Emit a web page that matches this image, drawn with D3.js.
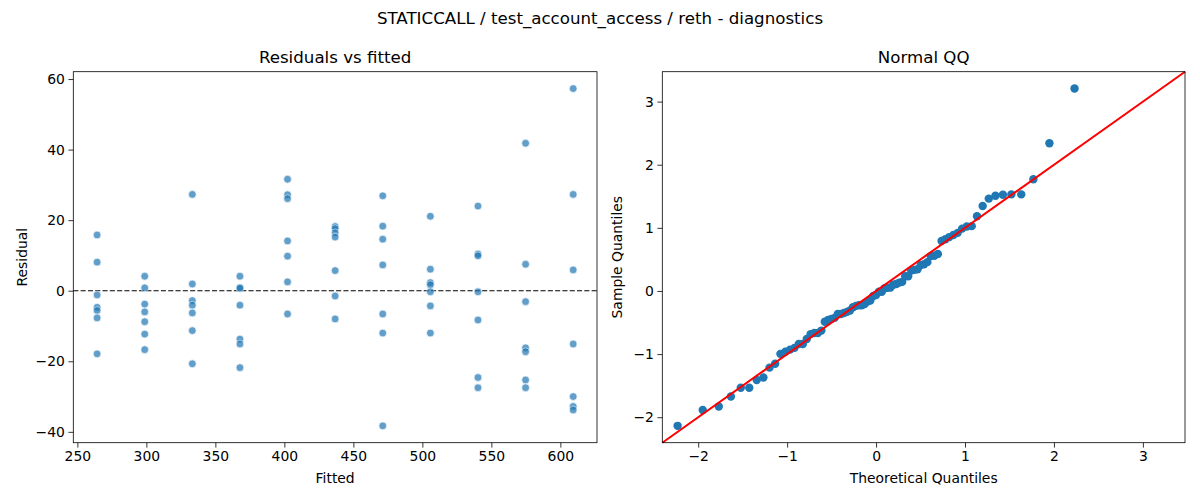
<!DOCTYPE html>
<html>
<head>
<meta charset="utf-8">
<script src="https://cdn.jsdelivr.net/npm/d3@7"></script>
<style>
  body { margin: 0; background: #fff; }
  svg { display: block; font-family: "DejaVu Sans", sans-serif; }
</style>
</head>
<body>
<div id="chart"></div>
<script>
// fitted levels (one column of points per level)
const fittedLevels = [264.3, 298.8, 333.3, 367.8, 402.3, 436.8, 471.3, 505.8, 540.3, 574.8, 609.3];

// residuals, one list per fitted level
const residualsByLevel = [
  [15.8, 8.1, -1.2, -4.7, -5.6, -7.7, -17.9],
  [4.1, 0.8, -3.8, -6.0, -8.8, -12.3, -16.7],
  [27.3, 1.9, -2.8, -4.1, -6.3, -11.3, -20.7],
  [4.1, 0.9, 0.7, -4.1, -13.7, -15.1, -21.8],
  [31.6, 27.2, 26.1, 14.1, 9.8, 2.5, -6.6],
  [18.2, 17.6, 16.4, 15.2, 5.7, -1.5, -8.0],
  [26.9, 18.3, 14.6, 7.3, -6.6, -12.0, -38.3],
  [21.1, 6.1, 2.3, 1.7, -0.3, -4.3, -12.0],
  [24.0, 10.4, 9.9, -0.3, -8.3, -24.6, -27.5],
  [41.8, 7.5, -3.1, -16.2, -17.3, -25.3, -27.5],
  [57.3, 27.3, 5.9, -15.1, -30.0, -32.8, -33.8]
];

const leftXTicks = [250, 300, 350, 400, 450, 500, 550, 600];
const leftYTicks = [-40, -20, 0, 20, 40, 60];
const qqTicks = [-2, -1, 0, 1, 2, 3];

const width = 1200;
const height = 500;
const blue = "#1f77b4";

const points = fittedLevels.flatMap((f, i) =>
  residualsByLevel[i].map(r => ({ fitted: f, resid: r }))
);

// matplotlib style auto margins (5%)
function padded(ext) {
  const m = (ext[1] - ext[0]) * 0.05;
  return [ext[0] - m, ext[1] + m];
}

// inverse normal cdf (Acklam)
function probit(p) {
  const a = [-39.69683028665376, 220.9460984245205, -275.9285104469687, 138.3577518672690, -30.66479806614716, 2.506628277459239];
  const b = [-54.47609879822406, 161.5858368580409, -155.6989798598866, 66.80131188771972, -13.28068155288572];
  const c = [-0.007784894002430293, -0.3223964580411365, -2.400758277161838, -2.549732539343734, 4.374664141464968, 2.938163982698783];
  const d = [0.007784695709041462, 0.3224671290700398, 2.445134137142996, 3.754408661907416];
  const pl = 0.02425;
  let q, r;
  if (p < pl) {
    q = Math.sqrt(-2 * Math.log(p));
    return (((((c[0]*q+c[1])*q+c[2])*q+c[3])*q+c[4])*q+c[5]) / ((((d[0]*q+d[1])*q+d[2])*q+d[3])*q+1);
  }
  if (p > 1 - pl) {
    q = Math.sqrt(-2 * Math.log(1 - p));
    return -(((((c[0]*q+c[1])*q+c[2])*q+c[3])*q+c[4])*q+c[5]) / ((((d[0]*q+d[1])*q+d[2])*q+d[3])*q+1);
  }
  q = p - 0.5;
  r = q * q;
  return (((((a[0]*r+a[1])*r+a[2])*r+a[3])*r+a[4])*r+a[5])*q / (((((b[0]*r+b[1])*r+b[2])*r+b[3])*r+b[4])*r+1);
}

// QQ: standardized sorted residuals vs normal plotting positions i/(n+1)
const resid = points.map(d => d.resid).sort(d3.ascending);
const n = resid.length;
const mu = d3.mean(resid);
const sd = Math.sqrt(d3.mean(resid, r => (r - mu) ** 2));
const qq = resid.map((r, i) => ({ theo: probit((i + 1) / (n + 1)), sample: (r - mu) / sd }));

const svg = d3.select("#chart").append("svg")
  .attr("width", width)
  .attr("height", height);

svg.append("text")
  .attr("x", width / 2)
  .attr("y", 24)
  .attr("text-anchor", "middle")
  .style("font-size", "16.67px")
  .text("STATICCALL / test_account_access / reth - diagnostics");

function frame(g, x, y, title, xlabel, ylabel, xTicks, yTicks, fmt) {
  const [x0, x1] = x.range();
  const [y0, y1] = y.range();

  const xAxis = g.append("g")
    .attr("transform", `translate(0,${y0})`)
    .call(d3.axisBottom(x).tickValues(xTicks).tickFormat(fmt).tickSize(4.9).tickPadding(3.5).tickSizeOuter(0));
  const yAxis = g.append("g")
    .attr("transform", `translate(${x0},0)`)
    .call(d3.axisLeft(y).tickValues(yTicks).tickFormat(fmt).tickSize(4.9).tickPadding(3.5).tickSizeOuter(0));
  [xAxis, yAxis].forEach(a => {
    a.select(".domain").remove();
    a.selectAll("line").attr("stroke", "#000").attr("stroke-width", 0.8);
    a.selectAll("text").attr("fill", "#000").style("font-size", "13.9px").style("font-family", "DejaVu Sans");
  });

  g.append("rect")
    .attr("x", x0).attr("y", y1)
    .attr("width", x1 - x0).attr("height", y0 - y1)
    .attr("fill", "none").attr("stroke", "#000").attr("stroke-width", 0.8);

  g.append("text")
    .attr("x", (x0 + x1) / 2).attr("y", y1 - 9)
    .attr("text-anchor", "middle")
    .style("font-size", "16.67px")
    .text(title);

  g.append("text")
    .attr("x", (x0 + x1) / 2).attr("y", 483)
    .attr("text-anchor", "middle")
    .style("font-size", "13.9px")
    .text(xlabel);

  g.append("text")
    .attr("transform", `translate(${ylabel.x},${(y0 + y1) / 2}) rotate(-90)`)
    .attr("text-anchor", "middle")
    .style("font-size", "13.9px")
    .text(ylabel.text);
}

const minus = d => String(d).replace("-", "\u2212");

// left panel: residuals vs fitted
const xL = d3.scaleLinear()
  .domain(padded(d3.extent(points, d => d.fitted)))
  .range([73.3, 597]);
const yL = d3.scaleLinear()
  .domain(padded(d3.extent(points, d => d.resid)))
  .range([442.7, 71.7]);

const gL = svg.append("g");

gL.append("line")
  .attr("x1", xL.range()[0]).attr("x2", xL.range()[1])
  .attr("y1", yL(0)).attr("y2", yL(0))
  .attr("stroke", "#000").attr("stroke-width", 1.1)
  .attr("stroke-dasharray", "5.1,2.2");

gL.append("g")
  .selectAll("circle")
  .data(points)
  .join("circle")
  .attr("cx", d => xL(d.fitted))
  .attr("cy", d => yL(d.resid))
  .attr("r", 3.9)
  .attr("fill", blue)
  .attr("stroke", "#fff")
  .attr("stroke-width", 0.7)
  .attr("opacity", 0.7);

frame(gL, xL, yL, "Residuals vs fitted", "Fitted", { text: "Residual", x: 27 }, leftXTicks, leftYTicks, minus);

// right panel: normal QQ, both axes share the (padded) sample limits
const ye = padded(d3.extent(qq, d => d.sample));
const lims = [ye[0], Math.max(ye[1], d3.max(qq, d => d.theo))];

const xR = d3.scaleLinear().domain(lims).range([662.3, 1185]);
const yR = d3.scaleLinear().domain(lims).range([442.7, 71.7]);

const gR = svg.append("g");

gR.append("g")
  .selectAll("circle")
  .data(qq)
  .join("circle")
  .attr("cx", d => xR(d.theo))
  .attr("cy", d => yR(d.sample))
  .attr("r", 4.2)
  .attr("fill", blue);

gR.append("line")
  .attr("x1", xR(lims[0])).attr("y1", yR(lims[0]))
  .attr("x2", xR(lims[1])).attr("y2", yR(lims[1]))
  .attr("stroke", "red").attr("stroke-width", 2);

frame(gR, xR, yR, "Normal QQ", "Theoretical Quantiles", { text: "Sample Quantiles", x: 622 }, qqTicks, qqTicks, minus);
</script>
</body>
</html>
